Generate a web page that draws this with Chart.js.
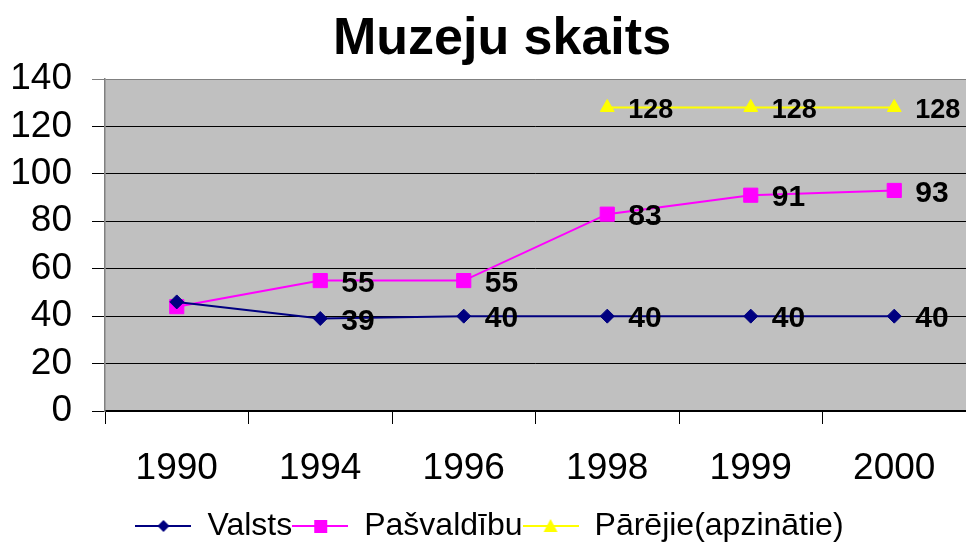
<!DOCTYPE html>
<html>
<head>
<meta charset="utf-8">
<script src="https://cdn.jsdelivr.net/npm/chart.js@4/dist/chart.umd.min.js"></script>
<style>
  html, body { margin: 0; padding: 0; background: #ffffff; }
  #wrap { width: 966px; height: 543px; }
</style>
</head>
<body>
<div id="wrap"><canvas id="c" width="966" height="543"></canvas></div>
<script>
const chartTitle = 'Muzeju skaits';
const categories = ['1990', '1994', '1996', '1998', '1999', '2000'];
const seriesNames = ['Valsts', 'Pašvaldību', 'Pārējie(apzinātie)'];
const valsts = [46, 39, 40, 40, 40, 40];
const pasvaldibu = [44, 55, 55, 83, 91, 93];
const parejie = [null, null, null, 128, 128, 128];
const yTicks = [0, 20, 40, 60, 80, 100, 120, 140];
const labelledCategories = ['1994', '1996', '1998', '1999', '2000'];

const FONT = '"Liberation Sans", Arial, sans-serif';
const colors = ['#000080', '#FF00FF', '#FFFF00'];
const styles = ['rectRot', 'rect', 'triangle'];
const radii = [7, 10, 8];
const labelFonts = ['bold 30px ' + FONT, 'bold 30px ' + FONT, 'bold 27px ' + FONT];

function legendIcon(idx) {
  const cv = document.createElement('canvas');
  cv.width = 56; cv.height = 18;
  const g = cv.getContext('2d');
  g.strokeStyle = colors[idx];
  g.lineWidth = 2;
  g.beginPath(); g.moveTo(0, 9); g.lineTo(56, 9); g.stroke();
  g.fillStyle = colors[idx];
  g.beginPath();
  if (idx === 0) { g.moveTo(28, 3); g.lineTo(34, 9); g.lineTo(28, 15); g.lineTo(22, 9); }
  else if (idx === 1) { g.rect(22, 3, 13, 13); }
  else { g.moveTo(28, 2); g.lineTo(35, 15); g.lineTo(21, 15); }
  g.closePath(); g.fill();
  return cv;
}
const icons = [legendIcon(0), legendIcon(1), legendIcon(2)];

const bgPlugin = {
  id: 'plotBg',
  beforeDraw(chart) {
    const a = chart.chartArea, ctx = chart.ctx;
    ctx.save();
    ctx.fillStyle = '#C0C0C0';
    ctx.fillRect(a.left, a.top, a.right - a.left, a.bottom - a.top);
    ctx.restore();
  }
};

const titlePlugin = {
  id: 'customTitle',
  afterDraw(chart) {
    const ctx = chart.ctx;
    ctx.save();
    ctx.font = 'bold 52px ' + FONT;
    ctx.fillStyle = '#000';
    ctx.textAlign = 'center';
    ctx.textBaseline = 'alphabetic';
    ctx.fillText(chartTitle, 502, 54);
    ctx.restore();
  }
};

const valueLabels = {
  id: 'valueLabels',
  afterDatasetsDraw(chart) {
    const ctx = chart.ctx;
    ctx.save();
    ctx.fillStyle = '#000';
    ctx.textAlign = 'left';
    ctx.textBaseline = 'middle';
    chart.data.datasets.forEach((ds, i) => {
      const meta = chart.getDatasetMeta(i);
      ctx.font = labelFonts[i];
      ds.data.forEach((v, j) => {
        if (v === null || !labelledCategories.includes(categories[j])) return;
        const pt = meta.data[j];
        ctx.fillText(String(v), pt.x + 21, pt.y + 3);
      });
    });
    ctx.restore();
  }
};

const seriesData = [valsts, pasvaldibu, parejie];

new Chart(document.getElementById('c'), {
  type: 'line',
  data: {
    labels: categories,
    datasets: seriesData.map((d, i) => ({
      label: seriesNames[i],
      data: d,
      borderColor: colors[i],
      backgroundColor: colors[i],
      borderWidth: 2,
      pointStyle: styles[i],
      pointRadius: radii[i],
      pointHoverRadius: radii[i],
      pointBorderWidth: 1,
      pointBorderColor: colors[i],
      pointBackgroundColor: colors[i],
      tension: 0,
      spanGaps: false
    }))
  },
  options: {
    responsive: false,
    animation: false,
    devicePixelRatio: 1,
    layout: { autoPadding: false, padding: { top: 79, left: 10, right: -3, bottom: -9 } },
    plugins: {
      title: { display: false },
      tooltip: { enabled: false },
      legend: {
        position: 'bottom',
        labels: {
          usePointStyle: true,
          pointStyleWidth: 56,
          boxHeight: 18,
          padding: 0,
          color: '#000',
          font: { family: FONT, size: 32, lineHeight: 1.0 },
          generateLabels(chart) {
            const items = Chart.defaults.plugins.legend.labels.generateLabels(chart);
            items.forEach((it, k) => { it.pointStyle = icons[k]; });
            return items;
          }
        }
      }
    },
    scales: {
      x: {
        offset: true,
        grid: { offset: true, drawOnChartArea: false, tickLength: 13, color: '#000', tickWidth: 1 },
        border: { color: '#000', width: 1.5 },
        ticks: { color: '#000', padding: 26, font: { family: FONT, size: 37, lineHeight: 1.0 }, maxRotation: 0 },
        afterFit(scale) { scale.height = 99; scale.paddingRight = 0; scale.paddingLeft = 0; }
      },
      y: {
        min: 0, max: 140,
        afterBuildTicks(scale) { scale.ticks = yTicks.map(v => ({ value: v })); },
        afterFit(scale) { scale.width = 95; },
        grid: {
          color: (c) => (c.tick && c.tick.value === 140) ? '#808080' : '#000',
          tickLength: 13, lineWidth: 1
        },
        border: { color: '#808080', width: 1.5 },
        ticks: { color: '#000', padding: 20, autoSkip: false, font: { family: FONT, size: 37 } }
      }
    }
  },
  plugins: [bgPlugin, valueLabels, titlePlugin]
});
</script>
</body>
</html>
